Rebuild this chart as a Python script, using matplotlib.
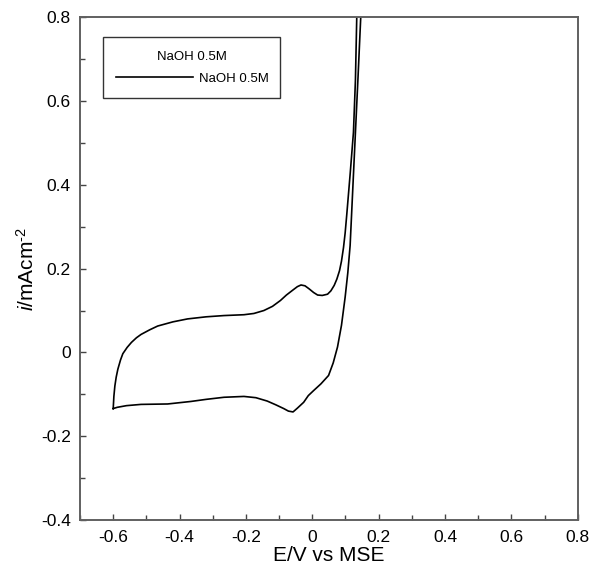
import matplotlib
matplotlib.use("Agg")
import matplotlib.pyplot as plt
from matplotlib.ticker import MultipleLocator, FuncFormatter

plt.rcParams['font.family'] = ['Liberation Sans', 'DejaVu Sans']
plt.rcParams['mathtext.fontset'] = 'custom'
plt.rcParams['mathtext.rm'] = 'Liberation Sans'
plt.rcParams['mathtext.it'] = 'Liberation Sans:italic'

# Anodic (forward) sweep
anodic_E = [-0.600, -0.598, -0.595, -0.591, -0.586, -0.578, -0.571, -0.558, -0.545, -0.530,
            -0.516, -0.490, -0.466, -0.420, -0.376, -0.320, -0.266, -0.206, -0.176, -0.146,
            -0.120, -0.096, -0.078, -0.060, -0.045, -0.034, -0.022, -0.010, 0.004, 0.016,
            0.030, 0.046, 0.056, 0.066, 0.074, 0.082, 0.088, 0.094, 0.099, 0.104,
            0.114, 0.124, 0.130, 0.134, 0.138]
anodic_i = [-0.134, -0.105, -0.080, -0.059, -0.040, -0.018, -0.003, 0.012, 0.024, 0.035,
            0.043, 0.054, 0.063, 0.073, 0.080, 0.085, 0.088, 0.090, 0.093, 0.100,
            0.110, 0.124, 0.137, 0.148, 0.157, 0.161, 0.159, 0.152, 0.143, 0.137,
            0.136, 0.139, 0.147, 0.160, 0.175, 0.195, 0.218, 0.250, 0.285, 0.330,
            0.425, 0.525, 0.650, 0.800, 0.900]

# Cathodic (return) sweep
cathodic_E = [0.150, 0.146, 0.138, 0.130, 0.122, 0.114, 0.107, 0.099, 0.088, 0.076,
              0.063, 0.049, 0.026, 0.004, -0.012, -0.026, -0.045, -0.058, -0.072, -0.086,
              -0.110, -0.136, -0.170, -0.206, -0.266, -0.320, -0.366, -0.436, -0.516, -0.560,
              -0.588, -0.600]
cathodic_i = [0.900, 0.800, 0.660, 0.525, 0.390, 0.255, 0.190, 0.132, 0.065, 0.013,
              -0.025, -0.055, -0.075, -0.091, -0.103, -0.119, -0.133, -0.142, -0.140, -0.134,
              -0.125, -0.116, -0.108, -0.105, -0.107, -0.112, -0.117, -0.123, -0.124, -0.127,
              -0.131, -0.134]

legend_title = "NaOH 0.5M"
series_label = "NaOH 0.5M"

fig = plt.figure(figsize=(5.95, 5.74), dpi=100)
ax = fig.add_axes([0.1345, 0.094, 0.8365, 0.876])

E = anodic_E + cathodic_E
I = anodic_i + cathodic_i
ax.plot(E, I, color='black', lw=1.2, label=series_label)

ax.set_xlim(-0.7, 0.8)
ax.set_ylim(-0.4, 0.8)
ax.xaxis.set_major_locator(MultipleLocator(0.2))
ax.xaxis.set_minor_locator(MultipleLocator(0.1))
ax.yaxis.set_major_locator(MultipleLocator(0.2))
ax.yaxis.set_minor_locator(MultipleLocator(0.1))

def fmt(v, pos):
    if abs(v) < 1e-9:
        return "0"
    return ("%.1f" % v)
ax.xaxis.set_major_formatter(FuncFormatter(fmt))
ax.yaxis.set_major_formatter(FuncFormatter(fmt))

ax.tick_params(which='both', direction='in', top=False, right=False, labelsize=12.5,
               color='#444444', width=1)
ax.tick_params(which='major', length=4.5)
ax.tick_params(which='minor', length=3.5)
ax.tick_params(axis='x', which='major', pad=7)
ax.tick_params(axis='y', which='major', pad=6.5)

for s in ax.spines.values():
    s.set_color('#606060')
    s.set_linewidth(1.4)

ax.set_xlabel("E/V vs MSE", fontsize=15, labelpad=1)
ax.set_ylabel("$i$/mAcm$^{\\text{-2}}$", fontsize=15, labelpad=2.5)

leg = ax.legend(loc='upper left', bbox_to_anchor=(0.046, 0.960, 0.356, 0.0), mode='expand',
                title=legend_title, fontsize=9.5, title_fontsize=9.5, frameon=True,
                fancybox=False, handlelength=5.8, borderpad=1.0, borderaxespad=0,
                labelspacing=0.76, handletextpad=0.5)
leg.get_frame().set_edgecolor('black')
leg.get_frame().set_linewidth(1.0)

fig.savefig("out.png", dpi=100)
